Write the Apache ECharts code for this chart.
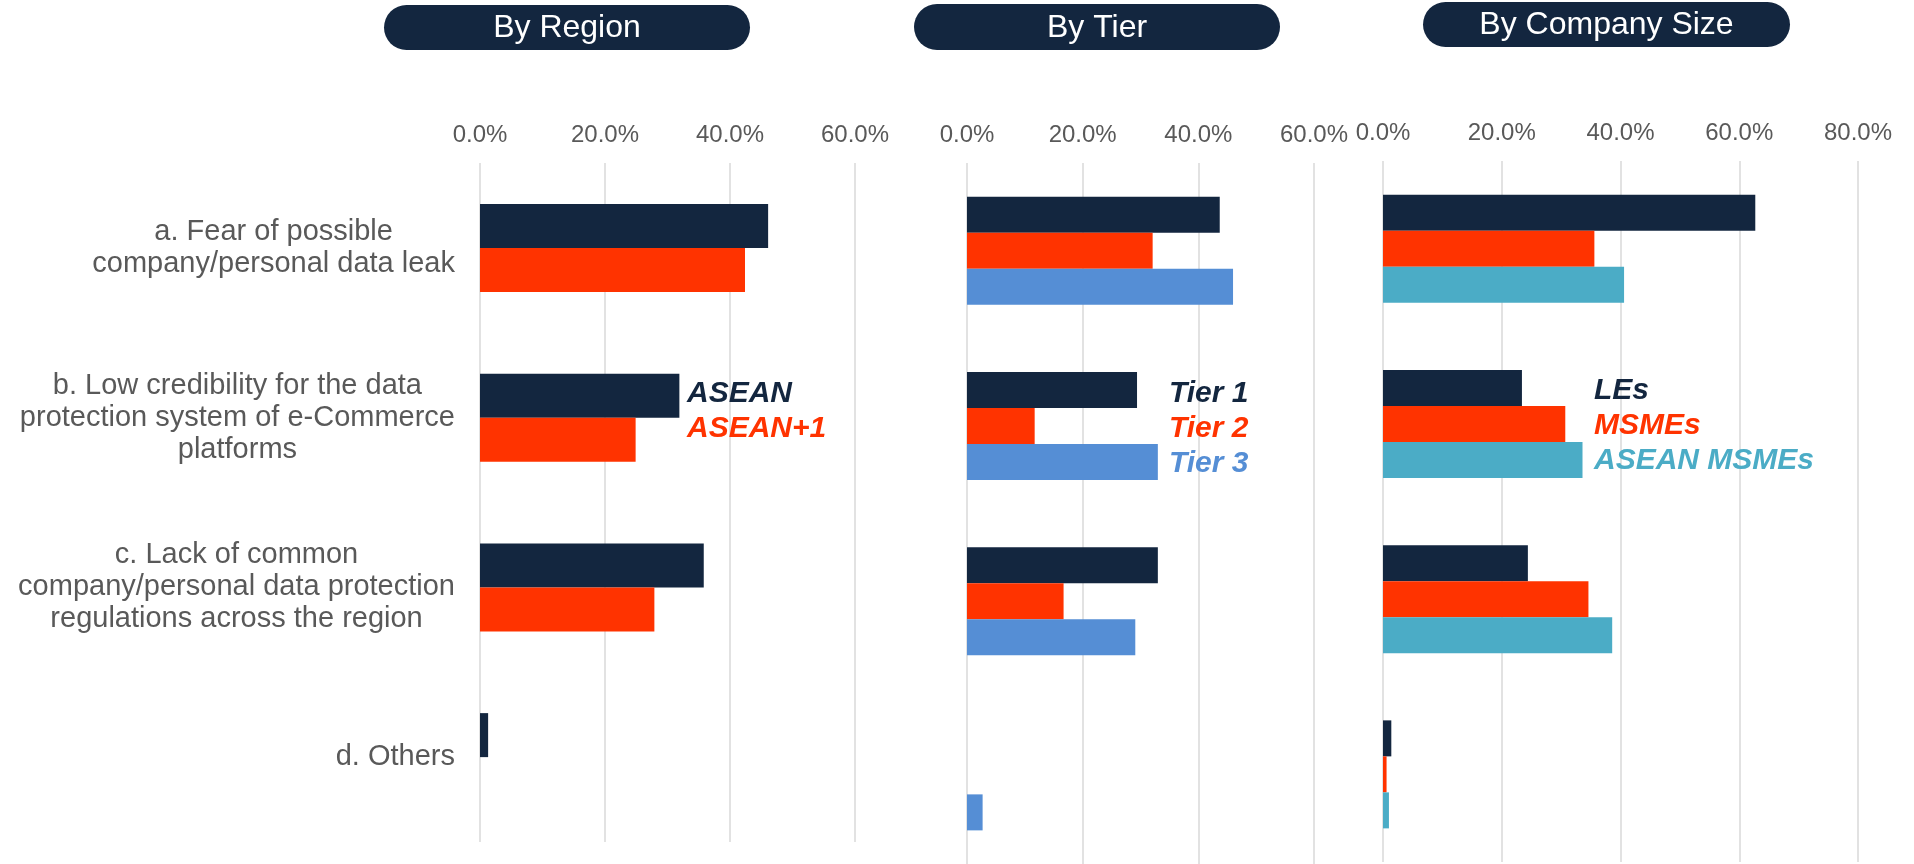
<!DOCTYPE html>
<html>
<head>
<meta charset="utf-8">
<title>Data protection concerns</title>
<script src="https://cdn.jsdelivr.net/npm/echarts@6.0.0/dist/echarts.min.js"></script>
<style>
    html, body { margin: 0; padding: 0; background: #fff; }
    #main { width: 1914px; height: 864px; }
</style>
</head>
<body>
<div id="main"></div>
<script type="text/javascript">
// categories, top to bottom
var categories = [
    'a. Fear of possible\ncompany/personal data leak',
    'b. Low credibility for the data\nprotection system of e-Commerce\nplatforms',
    'c. Lack of common\ncompany/personal data protection\nregulations across the region',
    'd. Others'
];
var panelTitles = ['By Region', 'By Tier', 'By Company Size'];

// By Region (%)
var asean      = [46.1, 31.9, 35.8, 1.3];
var aseanPlus1 = [42.4, 24.9, 27.9, 0];
// By Tier (%)
var tier1 = [43.7, 29.4, 33.0, 0];
var tier2 = [32.1, 11.7, 16.7, 0];
var tier3 = [46.0, 33.0, 29.1, 2.7];
// By Company Size (%)
var les        = [62.7, 23.4, 24.4, 1.4];
var msmes      = [35.6, 30.7, 34.6, 0.6];
var aseanMsmes = [40.6, 33.6, 38.6, 1.0];

var axisMax = [60, 60, 80];

var navy = '#13263f', red = '#ff3300', blue = '#558ed5', teal = '#4bacc6';
var font = '"Liberation Sans", Arial, sans-serif';

var grids = [
    { left: 480, top: 163, width: 375, height: 679 },
    { left: 967, top: 163, width: 347, height: 701 },
    { left: 1383, top: 161, width: 475, height: 701 }
];
var pills = [
    { x: 384, y: 5, w: 366, h: 45 },
    { x: 914, y: 4, w: 366, h: 46 },
    { x: 1423, y: 2, w: 367, h: 45 }
];

function bar(name, data, color, idx, width) {
    return {
        name: name,
        type: 'bar',
        xAxisIndex: idx,
        yAxisIndex: idx,
        data: data,
        barWidth: width,
        barGap: '0%',
        itemStyle: { color: color },
        emphasis: { disabled: true }
    };
}

function legendFor(items, left, top) {
    return {
        orient: 'vertical',
        left: left,
        top: top,
        padding: 0,
        itemGap: 0,
        itemWidth: 0,
        itemHeight: 0,
        icon: 'none',
        selectedMode: false,
        textStyle: {
            fontFamily: font,
            fontSize: 30,
            fontWeight: 'bold',
            fontStyle: 'italic',
            lineHeight: 35
        },
        data: items.map(function (it) {
            return { name: it[0], textStyle: { color: it[1] } };
        })
    };
}

var graphic = [];
pills.forEach(function (p, i) {
    graphic.push({
        type: 'rect',
        shape: { x: p.x, y: p.y, width: p.w, height: p.h, r: p.h / 2 },
        style: { fill: navy }
    });
    graphic.push({
        type: 'text',
        style: {
            text: panelTitles[i],
            x: p.x + p.w / 2,
            y: p.y + p.h / 2 + 1,
            textAlign: 'center',
            textVerticalAlign: 'middle',
            fill: '#fff',
            font: '32px ' + font
        }
    });
});

var myChart = echarts.init(document.getElementById('main'));
var option = {
    animation: false,
    backgroundColor: '#fff',
    grid: grids,
    graphic: graphic,
    xAxis: grids.map(function (g, i) {
        return {
            type: 'value',
            gridIndex: i,
            position: 'top',
            min: 0,
            max: axisMax[i],
            interval: 20,
            axisLine: { show: false },
            axisTick: { show: false },
            axisLabel: {
                margin: 16,
                color: '#595959',
                fontFamily: font,
                fontSize: 24,
                formatter: function (v) { return v.toFixed(1) + '%'; }
            },
            splitLine: { lineStyle: { color: '#d9d9d9', width: 1.5 } }
        };
    }),
    yAxis: grids.map(function (g, i) {
        return {
            type: 'category',
            gridIndex: i,
            inverse: true,
            data: categories,
            axisLine: { show: false },
            axisTick: { show: false },
            axisLabel: {
                show: i === 0,
                margin: 25,
                align: 'right',
                formatter: function (v) {
                    return v.split('\n').map(function (l) { return '{c|' + l + '}'; }).join('\n');
                },
                rich: {
                    c: {
                        align: 'center',
                        color: '#595959',
                        fontFamily: font,
                        fontSize: 29,
                        lineHeight: 32
                    }
                }
            }
        };
    }),
    legend: [
        legendFor([['ASEAN', navy], ['ASEAN+1', red]], 682, 376),
        legendFor([['Tier 1', navy], ['Tier 2', red], ['Tier 3', blue]], 1164, 376),
        legendFor([['LEs', navy], ['MSMEs', red], ['ASEAN MSMEs', teal]], 1589, 373)
    ],
    series: [
        bar('ASEAN', asean, navy, 0, 44),
        bar('ASEAN+1', aseanPlus1, red, 0, 44),
        bar('Tier 1', tier1, navy, 1, 36),
        bar('Tier 2', tier2, red, 1, 36),
        bar('Tier 3', tier3, blue, 1, 36),
        bar('LEs', les, navy, 2, 36),
        bar('MSMEs', msmes, red, 2, 36),
        bar('ASEAN MSMEs', aseanMsmes, teal, 2, 36)
    ]
};
myChart.setOption(option);
</script>
</body>
</html>
